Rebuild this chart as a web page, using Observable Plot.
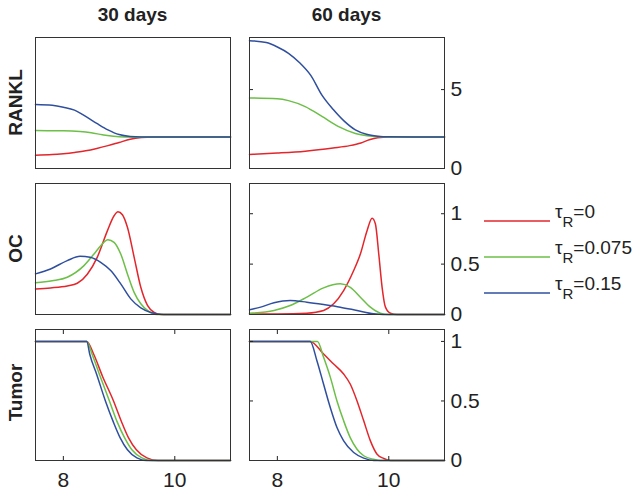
<!DOCTYPE html>
<html><head><meta charset="utf-8">
<script src="https://cdn.jsdelivr.net/npm/d3@7"></script>
<script src="https://cdn.jsdelivr.net/npm/@observablehq/plot@0.6"></script>
<style>
body{margin:0;background:#fff;}
#chart{position:relative;width:642px;height:493px;font-family:"Liberation Sans",Arial,Helvetica,sans-serif;}
#chart svg{position:absolute;overflow:visible;}
</style></head><body><div id="chart"></div><script>
// ---- data ----
const columns = ["30 days", "60 days"];
const rowLabels = ["RANKL", "OC", "Tumor"];
const seriesNames = ["0", "0.075", "0.15"];
const colors = ["#e3262b", "#6cbf47", "#2f4f9e"];
const xDomain = [7.5, 11];
const xTicks = [8, 10];
const yDomains = [[0, 8.3], [0, 1.3], [0, 1.1]];
const yTicks = [[0, 5], [0, 0.5, 1], [0, 0.5, 1]];

// RANKL, 30 days
const RANKL30_red = [[7.5,0.84],[7.8,0.88],[8.0,0.94],[8.2,1.02],[8.4,1.12],[8.6,1.27],[8.8,1.45],[9.0,1.65],[9.2,1.85],[9.4,1.96],[9.6,2.0],[11,2.0]];
const RANKL30_green = [[7.5,2.4],[8.0,2.39],[8.3,2.34],[8.5,2.26],[8.7,2.14],[8.9,2.04],[9.1,1.99],[9.3,1.98],[9.5,2.0],[11,2.0]];
const RANKL30_blue = [[7.5,4.05],[7.8,4.0],[8.0,3.88],[8.2,3.7],[8.4,3.3],[8.6,2.86],[8.8,2.45],[9.0,2.15],[9.2,2.03],[9.4,2.0],[11,2.0]];
// RANKL, 60 days
const RANKL60_red = [[7.5,0.89],[8.0,0.98],[8.5,1.1],[9.0,1.3],[9.3,1.45],[9.5,1.62],[9.65,1.82],[9.8,1.95],[10.0,2.0],[11,2.0]];
const RANKL60_green = [[7.5,4.47],[8.0,4.42],[8.2,4.3],[8.5,3.92],[8.8,3.3],[9.1,2.65],[9.4,2.22],[9.7,2.05],[10.0,2.0],[11,2.0]];
const RANKL60_blue = [[7.5,8.1],[7.8,7.98],[8.0,7.7],[8.2,7.3],[8.4,6.7],[8.6,5.9],[8.8,4.65],[9.0,3.75],[9.2,3.0],[9.4,2.45],[9.6,2.17],[9.8,2.05],[10.0,2.01],[11,2.0]];
// OC, 30 days
const OC30_red = [[7.5,0.254],[7.77,0.264],[8.07,0.283],[8.25,0.31],[8.43,0.40],[8.61,0.57],[8.79,0.83],[8.91,0.98],[8.98,1.02],[9.06,0.99],[9.15,0.865],[9.27,0.57],[9.39,0.27],[9.51,0.09],[9.63,0.02],[9.75,0],[11,0]];
const OC30_green = [[7.5,0.314],[7.8,0.335],[8.07,0.37],[8.37,0.485],[8.55,0.60],[8.67,0.683],[8.80,0.743],[8.91,0.716],[9.03,0.60],[9.15,0.403],[9.27,0.22],[9.39,0.106],[9.51,0.04],[9.68,0],[11,0]];
const OC30_blue = [[7.5,0.403],[7.77,0.452],[8.07,0.535],[8.30,0.578],[8.48,0.568],[8.67,0.518],[8.85,0.436],[9.03,0.304],[9.21,0.155],[9.39,0.066],[9.57,0.02],[9.8,0],[11,0]];
// OC, 60 days
const OC60_red = [[7.5,0.005],[8.0,0.006],[8.53,0.013],[8.83,0.04],[9.01,0.106],[9.19,0.238],[9.37,0.436],[9.49,0.6],[9.61,0.832],[9.70,0.954],[9.76,0.898],[9.82,0.6],[9.88,0.27],[9.94,0.073],[10.03,0.013],[10.15,0],[11,0]];
const OC60_green = [[7.5,0.013],[7.94,0.04],[8.23,0.089],[8.53,0.172],[8.83,0.264],[9.13,0.304],[9.31,0.27],[9.49,0.172],[9.67,0.073],[9.85,0.013],[10.0,0],[11,0]];
const OC60_blue = [[7.5,0.046],[7.70,0.073],[7.94,0.116],[8.23,0.139],[8.53,0.122],[8.83,0.099],[9.13,0.073],[9.43,0.04],[9.73,0.007],[9.9,0],[11,0]];
// Tumor, 30 days
const Tumor30_red = [[7.5,1],[8.42,1],[8.547,0.89],[8.7,0.71],[8.90,0.5],[9.04,0.33],[9.17,0.19],[9.31,0.09],[9.50,0.022],[9.7,0],[11,0]];
const Tumor30_green = [[7.5,1],[8.42,1],[8.518,0.89],[8.65,0.72],[8.827,0.5],[8.97,0.32],[9.10,0.19],[9.23,0.09],[9.41,0.022],[9.6,0],[11,0]];
const Tumor30_blue = [[7.5,1],[8.42,1],[8.475,0.89],[8.6,0.72],[8.755,0.5],[8.9,0.32],[9.02,0.19],[9.15,0.09],[9.32,0.022],[9.5,0],[11,0]];
// Tumor, 60 days
const Tumor60_red = [[7.5,1],[8.59,1],[8.83,0.894],[9.01,0.81],[9.19,0.726],[9.31,0.64],[9.43,0.50],[9.55,0.333],[9.67,0.165],[9.79,0.053],[9.91,0.017],[10.03,0],[11,0]];
const Tumor60_green = [[7.5,1],[8.72,1],[8.83,0.866],[8.95,0.70],[9.07,0.50],[9.19,0.333],[9.31,0.19],[9.43,0.095],[9.55,0.04],[9.73,0.01],[9.85,0],[11,0]];
const Tumor60_blue = [[7.5,1],[8.59,1],[8.71,0.838],[8.83,0.64],[8.95,0.445],[9.07,0.277],[9.19,0.165],[9.37,0.067],[9.55,0.02],[9.73,0],[11,0]];

const panels = [
  [[RANKL30_red, RANKL30_green, RANKL30_blue], [RANKL60_red, RANKL60_green, RANKL60_blue]],
  [[OC30_red, OC30_green, OC30_blue], [OC60_red, OC60_green, OC60_blue]],
  [[Tumor30_red, Tumor30_green, Tumor30_blue], [Tumor60_red, Tumor60_green, Tumor60_blue]]
];

// ---- layout ----
const chart = document.getElementById("chart");
const FONT = "'Liberation Sans', Arial, Helvetica, sans-serif";
const frameLeft = [35, 249], frameTop = [37, 183, 329];
const PW = 195, PH = 131;
const mL = 2, mT = 2, mR = 42, mB = 32;
const ink = "#222";

function makePanel(r, c) {
  const marks = [];
  panels[r][c].forEach((s, i) => marks.push(
    Plot.line(s, {x: d => d[0], y: d => d[1], stroke: colors[i], strokeWidth: 1.5, curve: "monotone-x"})
  ));
  const yOpt = {domain: yDomains[r]};
  const xOpt = {domain: xDomain};
  if (c === 1) {
    marks.push(Plot.axisY({ticks: yTicks[r], anchor: "right", tickSize: 0, tickPadding: 6, tickFormat: d => String(d), label: null, fontSize: 21}));
    marks.push(Plot.axisY({ticks: yTicks[r], anchor: "right", tickSize: -4, tickFormat: () => "", label: null}));
    marks.push(Plot.axisY({ticks: yTicks[r], anchor: "left", tickSize: -4, tickFormat: () => "", label: null}));
  } else {
    yOpt.axis = null;
  }
  if (r === 2) {
    marks.push(Plot.axisX({ticks: xTicks, anchor: "bottom", tickSize: 0, tickPadding: 12, tickFormat: d => String(d), label: null, fontSize: 21}));
    marks.push(Plot.axisX({ticks: xTicks, anchor: "bottom", tickSize: -4, tickFormat: () => "", label: null}));
    marks.push(Plot.axisX({ticks: xTicks, anchor: "top", tickSize: -4, tickFormat: () => "", label: null}));
  } else {
    xOpt.axis = null;
  }
  marks.push(Plot.frame({stroke: "#333", strokeWidth: 1}));
  const svg = Plot.plot({
    width: PW + mL + mR, height: PH + mT + mB,
    marginLeft: mL, marginTop: mT, marginRight: mR, marginBottom: mB,
    x: xOpt, y: yOpt, marks,
    style: {background: "transparent", overflow: "visible", fontFamily: FONT, fontSize: "21px", color: ink}
  });
  svg.style.position = "absolute";
  svg.style.left = (frameLeft[c] - mL) + "px";
  svg.style.top = (frameTop[r] - mT) + "px";
  svg.style.maxWidth = "none";
  chart.appendChild(svg);
}
for (let r = 0; r < 3; r++) for (let c = 0; c < 2; c++) makePanel(r, c);

// titles, row labels, legend
const over = d3.select(chart).append("svg")
  .attr("width", 642).attr("height", 493)
  .style("left", "0px").style("top", "0px")
  .style("font-family", FONT).style("pointer-events", "none");

columns.forEach((t, c) => over.append("text")
  .attr("x", frameLeft[c] + PW / 2).attr("y", 21)
  .attr("text-anchor", "middle").attr("font-weight", "bold").attr("font-size", 19)
  .attr("fill", ink).text(t));

const rowCenterAdj = [0, 0, -2];
rowLabels.forEach((t, r) => over.append("text")
  .attr("transform", `translate(21.5,${frameTop[r] + PH / 2 + rowCenterAdj[r]}) rotate(-90)`)
  .attr("text-anchor", "middle").attr("font-weight", "bold").attr("font-size", 19)
  .attr("fill", ink).text(t));

const legendY = [221, 257, 293];
seriesNames.forEach((n, i) => {
  over.append("line").attr("x1", 484).attr("x2", 550)
    .attr("y1", legendY[i]).attr("y2", legendY[i])
    .attr("stroke", colors[i]).attr("stroke-width", 1.5);
  const t = over.append("text").attr("x", 555).attr("y", legendY[i] - 3)
    .attr("font-size", 19).attr("fill", ink);
  t.append("tspan").text("τ");
  t.append("tspan").attr("dy", 9).attr("font-size", 15).text("R");
  t.append("tspan").attr("dy", -9).text("=" + n);
});
</script></body></html>
